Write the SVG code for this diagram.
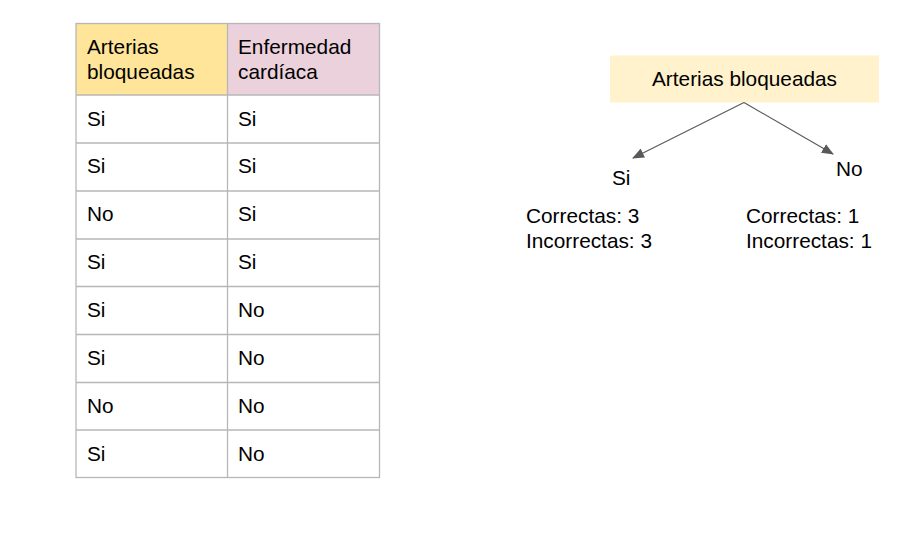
<svg xmlns="http://www.w3.org/2000/svg" width="922" height="535" viewBox="0 0 922 535">
<style>
text{font-family:"Liberation Sans",Arial,sans-serif;font-size:20.8px;fill:#000}
.grid{stroke:#b7b7b7;stroke-width:1.3;fill:none}
.edge{stroke:#595959;stroke-width:1.2;fill:none}
</style>
<defs>
<marker id="arr" markerWidth="12" markerHeight="10" refX="11" refY="5" orient="auto" markerUnits="userSpaceOnUse">
<path d="M0,0 L12,5 L0,10 z" fill="#595959"/>
</marker>
</defs>
<rect width="922" height="535" fill="#fff"/>
<g id="table">
<rect x="76" y="23.5" width="151.5" height="71.5" fill="#ffe599"/>
<rect x="227.5" y="23.5" width="152" height="71.5" fill="#ead1dc"/>
<rect class="grid" x="76" y="23.5" width="303.5" height="454"/>
<line class="grid" x1="227.5" y1="23.5" x2="227.5" y2="477.5"/>
<line class="grid" x1="76" y1="95" x2="379.5" y2="95"/>
<line class="grid" x1="76" y1="143" x2="379.5" y2="143"/>
<line class="grid" x1="76" y1="191" x2="379.5" y2="191"/>
<line class="grid" x1="76" y1="239" x2="379.5" y2="239"/>
<line class="grid" x1="76" y1="286.5" x2="379.5" y2="286.5"/>
<line class="grid" x1="76" y1="334.5" x2="379.5" y2="334.5"/>
<line class="grid" x1="76" y1="382.5" x2="379.5" y2="382.5"/>
<line class="grid" x1="76" y1="430" x2="379.5" y2="430"/>
<text x="87" y="54">Arterias</text>
<text x="87" y="79">bloqueadas</text>
<text x="238" y="54">Enfermedad</text>
<text x="238" y="79">cardíaca</text>
<text x="87" y="126">Si</text><text x="238" y="126">Si</text>
<text x="87" y="173">Si</text><text x="238" y="173">Si</text>
<text x="87" y="221">No</text><text x="238" y="221">Si</text>
<text x="87" y="269">Si</text><text x="238" y="269">Si</text>
<text x="87" y="317">Si</text><text x="238" y="317">No</text>
<text x="87" y="365">Si</text><text x="238" y="365">No</text>
<text x="87" y="413">No</text><text x="238" y="413">No</text>
<text x="87" y="461">Si</text><text x="238" y="461">No</text>
</g>
<g id="root">
<rect x="610" y="55.5" width="269" height="47" fill="#fff2cc"/>
<text x="744.5" y="86" text-anchor="middle">Arterias bloqueadas</text>
</g>
<g id="connectors">
<line class="edge" x1="744" y1="102.5" x2="633" y2="158" marker-end="url(#arr)"/>
<line class="edge" x1="744" y1="102.5" x2="833" y2="154" marker-end="url(#arr)"/>
</g>
<g id="si">
<text x="612" y="185">Si</text>
<text x="526" y="223">Correctas: 3</text>
<text x="526" y="248">Incorrectas: 3</text>
</g>
<g id="no">
<text x="836" y="176">No</text>
<text x="746" y="223">Correctas: 1</text>
<text x="746" y="248">Incorrectas: 1</text>
</g>
</svg>
